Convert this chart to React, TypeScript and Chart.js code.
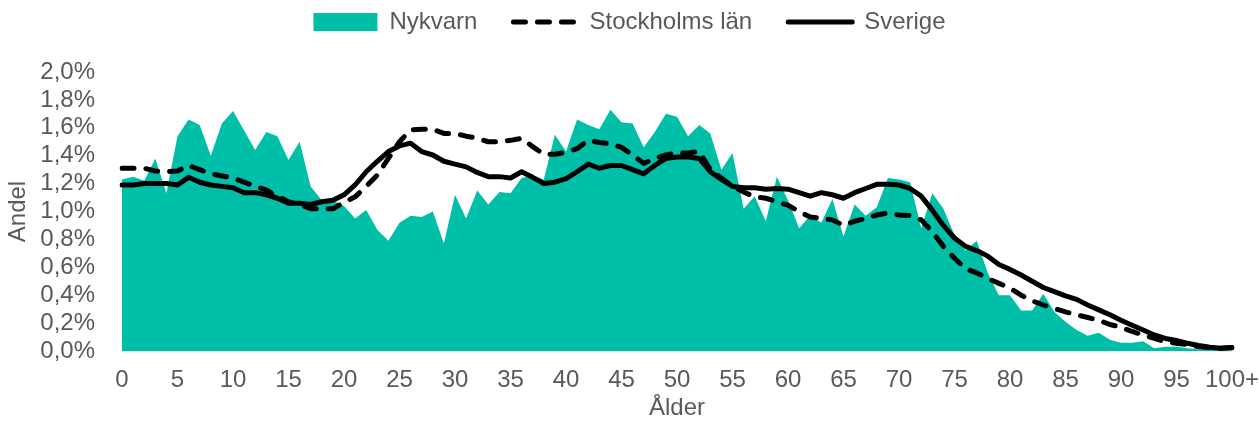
import React, { useEffect, useRef } from "react";
import { Chart, registerables } from "chart.js";

Chart.register(...registerables);

const ages: string[] = [];
for (let i = 0; i < 100; i++) ages.push(String(i));
ages.push("100+");

const nykvarn = [
  1.23, 1.25, 1.22, 1.38, 1.13, 1.54, 1.66, 1.62, 1.40, 1.63, 1.72, 1.58, 1.44, 1.57, 1.54, 1.37, 1.50, 1.18, 1.08, 1.08, 1.04,
  0.95, 1.01, 0.87, 0.79, 0.92, 0.97, 0.96, 1.00, 0.77, 1.12, 0.95, 1.15, 1.05, 1.14, 1.13, 1.24, 1.26, 1.23, 1.55, 1.43,
  1.66, 1.62, 1.59, 1.73, 1.64, 1.63, 1.46, 1.57, 1.70, 1.68, 1.54, 1.62, 1.56, 1.30, 1.42, 1.02, 1.11, 0.93, 1.25, 1.08,
  0.88, 0.97, 0.92, 1.09, 0.82, 1.05, 0.97, 1.03, 1.24, 1.23, 1.21, 0.88, 1.13, 1.02, 0.83, 0.72, 0.79, 0.56, 0.40, 0.40,
  0.29, 0.29, 0.41, 0.28, 0.21, 0.15, 0.11, 0.13, 0.08, 0.06, 0.06, 0.07, 0.02, 0.03, 0.03, 0.02, 0.01, 0.01, 0.005, 0.005,
];

const stockholm = [
  1.31, 1.31, 1.31, 1.29, 1.285, 1.29, 1.33, 1.30, 1.27, 1.255, 1.24, 1.21, 1.18, 1.155, 1.11, 1.07, 1.05, 1.02, 1.02, 1.02, 1.065,
  1.105, 1.18, 1.26, 1.38, 1.50, 1.585, 1.59, 1.59, 1.56, 1.56, 1.54, 1.525, 1.50, 1.50, 1.51, 1.525, 1.465, 1.41, 1.41, 1.425,
  1.45, 1.51, 1.495, 1.485, 1.46, 1.405, 1.345, 1.38, 1.405, 1.42, 1.42, 1.43, 1.30, 1.24, 1.18, 1.14, 1.105, 1.095, 1.07, 1.045,
  1.00, 0.96, 0.95, 0.94, 0.90, 0.93, 0.95, 0.975, 0.99, 0.975, 0.97, 0.94, 0.855, 0.75, 0.665, 0.59, 0.56, 0.52, 0.485, 0.45,
  0.40, 0.36, 0.33, 0.305, 0.28, 0.26, 0.24, 0.22, 0.19, 0.17, 0.14, 0.115, 0.09, 0.067, 0.055, 0.045, 0.03, 0.025, 0.02, 0.025,
];

const sverige = [
  1.19, 1.19, 1.20, 1.20, 1.20, 1.19, 1.245, 1.21, 1.19, 1.18, 1.17, 1.135, 1.135, 1.12, 1.095, 1.06, 1.06, 1.05, 1.07, 1.08, 1.12,
  1.19, 1.285, 1.36, 1.43, 1.47, 1.49, 1.43, 1.405, 1.36, 1.34, 1.32, 1.28, 1.25, 1.25, 1.24, 1.285, 1.245, 1.20, 1.21, 1.235,
  1.285, 1.34, 1.31, 1.33, 1.33, 1.30, 1.27, 1.33, 1.38, 1.39, 1.39, 1.38, 1.285, 1.23, 1.18, 1.17, 1.17, 1.16, 1.165, 1.16,
  1.135, 1.11, 1.135, 1.12, 1.095, 1.135, 1.165, 1.195, 1.195, 1.19, 1.165, 1.11, 1.01, 0.90, 0.81, 0.75, 0.72, 0.68, 0.62, 0.585,
  0.545, 0.50, 0.455, 0.425, 0.395, 0.37, 0.33, 0.295, 0.26, 0.22, 0.185, 0.15, 0.115, 0.09, 0.075, 0.055, 0.04, 0.027, 0.02, 0.025,
];

const seriesNames = ["Nykvarn", "Stockholms län", "Sverige"];
const yTicks = [0, 0.2, 0.4, 0.6, 0.8, 1.0, 1.2, 1.4, 1.6, 1.8, 2.0];

const FONT = "'Liberation Sans', Arial, sans-serif";
const GREY = "#595959";
const TEAL = "#00BFA9";
const LINE_W = 5;
const DASH = [12, 12];

export default function App() {
  const ref = useRef<HTMLCanvasElement | null>(null);

  useEffect(() => {
    if (!ref.current) return;
    const chart = new Chart(ref.current, {
      type: "line",
      data: {
        labels: ages,
        datasets: [
          {
            label: seriesNames[0],
            data: nykvarn,
            fill: "origin",
            backgroundColor: TEAL,
            borderColor: TEAL,
            borderWidth: 0,
            pointRadius: 0,
            pointStyle: "rect",
            tension: 0,
            order: 3,
          },
          {
            label: seriesNames[1],
            data: stockholm,
            fill: false,
            borderColor: "#000000",
            backgroundColor: "#000000",
            borderWidth: LINE_W,
            borderDash: DASH,
            borderCapStyle: "round",
            borderJoinStyle: "round",
            pointRadius: 0,
            pointStyle: "line",
            tension: 0,
            order: 2,
          },
          {
            label: seriesNames[2],
            data: sverige,
            fill: false,
            borderColor: "#000000",
            backgroundColor: "#000000",
            borderWidth: LINE_W,
            borderCapStyle: "round",
            borderJoinStyle: "round",
            pointRadius: 0,
            pointStyle: "line",
            tension: 0,
            order: 1,
          },
        ] as any,
      },
      options: {
        responsive: false,
        animation: false,
        layout: { padding: { top: -26, right: 0, bottom: 0, left: 0 } },
        plugins: {
          tooltip: { enabled: false },
          title: {
            display: true,
            text: "",
            weight: 500,
            font: { size: 10 },
            padding: { top: 0, bottom: 16 },
          } as any,
          legend: {
            position: "top",
            labels: {
              usePointStyle: true,
              pointStyleWidth: 64,
              boxWidth: 64,
              boxHeight: 18,
              padding: 36,
              color: GREY,
              font: { family: FONT, size: 24 },
              sort: (a: any, b: any) => a.datasetIndex - b.datasetIndex,
              generateLabels: (c: any) => {
                const items = (Chart.defaults.plugins.legend.labels as any).generateLabels(c);
                items.forEach((it: any) => {
                  const ds = c.data.datasets[it.datasetIndex];
                  if (it.datasetIndex === 0) {
                    it.lineWidth = 0;
                    it.fillStyle = TEAL;
                    it.strokeStyle = TEAL;
                  } else {
                    it.lineWidth = LINE_W;
                    it.strokeStyle = "#000000";
                    it.lineDash = ds.borderDash || [];
                    it.lineCap = "round";
                  }
                });
                return items;
              },
            },
          } as any,
        },
        scales: {
          x: {
            type: "category",
            offset: false,
            grid: { display: false, drawTicks: false },
            border: { display: true, color: "#D9D9D9", width: 1.5 },
            ticks: {
              autoSkip: false,
              maxRotation: 0,
              minRotation: 0,
              padding: 15,
              color: GREY,
              font: { family: FONT, size: 24 },
              callback: (_v: any, i: number) => (i % 5 === 0 ? ages[i] : ""),
            },
            title: {
              display: true,
              text: "Ålder",
              color: GREY,
              font: { family: FONT, size: 24 },
              padding: { top: 0, bottom: 0 },
            },
            afterFit: (s: any) => {
              s.height = 72;
              s.paddingLeft = 0;
              s.paddingRight = 27;
            },
          },
          y: {
            min: 0,
            max: 2,
            grid: { display: false, drawTicks: false },
            border: { display: false },
            afterBuildTicks: (s: any) => {
              s.ticks = yTicks.map((v) => ({ value: v }));
            },
            ticks: {
              autoSkip: false,
              padding: 27,
              color: GREY,
              font: { family: FONT, size: 24 },
              callback: (v: any) => Number(v).toFixed(1).replace(".", ",") + "%",
            },
            title: {
              display: true,
              text: "Andel",
              color: GREY,
              font: { family: FONT, size: 24 },
              padding: { top: 4, bottom: 0 },
            },
            afterFit: (s: any) => {
              s.width = 122;
              s.paddingTop = 0;
              s.paddingBottom = 0;
            },
          },
        },
      } as any,
    });
    return () => chart.destroy();
  }, []);

  return (
    <canvas
      ref={ref}
      width={1259}
      height={423}
      style={{ position: "fixed", left: 0, top: 0, width: 1259, height: 423, display: "block" }}
    />
  );
}
